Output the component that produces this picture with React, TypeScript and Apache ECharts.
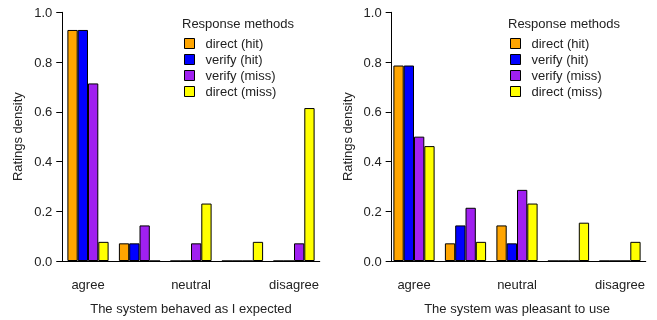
import React, { useEffect, useRef } from "react";
import * as echarts from "echarts";

const categories = ["agree", "", "neutral", "", "disagree"];
const methods = ["direct (hit)", "verify (hit)", "verify (miss)", "direct (miss)"];
const colors = ["#FFA500", "#0000FF", "#A020F0", "#FFFF00"];
const yTicks = [0, 0.2, 0.4, 0.6, 0.8, 1.0];

const leftTitle = "The system behaved as I expected";
const rightTitle = "The system was pleasant to use";

// values per method, per category
const leftDirectHit = [0.929, 0.071, 0, 0, 0];
const leftVerifyHit = [0.929, 0.071, 0, 0, 0];
const leftVerifyMiss = [0.714, 0.143, 0.071, 0, 0.071];
const leftDirectMiss = [0.077, 0, 0.231, 0.077, 0.615];

const rightDirectHit = [0.786, 0.071, 0.143, 0, 0];
const rightVerifyHit = [0.786, 0.143, 0.071, 0, 0];
const rightVerifyMiss = [0.5, 0.214, 0.286, 0, 0];
const rightDirectMiss = [0.462, 0.077, 0.231, 0.154, 0.077];

const FONT = "Liberation Sans, Arial, Helvetica, sans-serif";
const TEXT = "#222";
const FS = 13;

export default function App() {
  const ref = useRef<HTMLDivElement>(null);
  useEffect(() => {
    if (!ref.current) return;
    const chart = echarts.init(ref.current, null, { renderer: "svg" });
    const panels = [
      { data: [leftDirectHit, leftVerifyHit, leftVerifyMiss, leftDirectMiss], title: leftTitle, left: 62.25, yOff: 0 },
      { data: [rightDirectHit, rightVerifyHit, rightVerifyMiss, rightDirectMiss], title: rightTitle, left: 388.25, yOff: -3.4 },
    ];
    const grids = panels.map((p) => ({ left: p.left, top: 12.3, width: 257.5, height: 251 }));
    const xAxes = panels.map((p, i) => ({
      type: "category",
      gridIndex: i,
      data: categories,
      name: p.title,
      nameLocation: "middle",
      nameGap: 41,
      nameTextStyle: { fontFamily: FONT, fontSize: FS, color: TEXT },
      axisLine: { lineStyle: { color: "#000", width: 1 } },
      axisTick: { alignWithLabel: true, length: 7, lineStyle: { color: "#000" } },
      axisLabel: { interval: 0, margin: 17, fontFamily: FONT, fontSize: FS, color: TEXT },
    }));
    const yAxes = panels.map((p, i) => ({
      type: "value",
      gridIndex: i,
      min: 0,
      max: 1,
      interval: 0.2,
      offset: p.yOff,
      name: "Ratings density",
      nameLocation: "middle",
      nameGap: 38,
      nameRotate: 90,
      nameTextStyle: { fontFamily: FONT, fontSize: FS, color: TEXT },
      axisLine: { show: true, lineStyle: { color: "#000", width: 1 } },
      axisTick: { show: true, length: 6, lineStyle: { color: "#000" } },
      axisLabel: {
        margin: 10,
        fontFamily: FONT,
        fontSize: FS,
        color: TEXT,
        formatter: (v: number) => (yTicks.includes(Math.round(v * 10) / 10) ? v.toFixed(1) : ""),
      },
      splitLine: { show: false },
    }));
    const series: any[] = [];
    panels.forEach((p, i) => {
      p.data.forEach((vals, k) => {
        series.push({
          type: "bar",
          name: methods[k],
          xAxisIndex: i,
          yAxisIndex: i,
          data: vals,
          barGap: "0%",
          barCategoryGap: "20%",
          itemStyle: { color: colors[k], borderColor: "#000", borderWidth: 1 },
        });
      });
    });
    chart.setOption({
      animation: false,
      textStyle: { fontFamily: FONT },
      title: [
        { text: "Response methods", left: 182, top: 17 },
        { text: "Response methods", left: 508, top: 17 },
      ].map((t) => ({
        ...t,
        padding: 0,
        textStyle: { fontFamily: FONT, fontSize: FS, fontWeight: "normal", color: TEXT },
      })),
      legend: [184, 510].map((l) => ({
        orient: "vertical",
        left: l,
        top: 37,
        padding: 0,
        itemWidth: 10,
        itemHeight: 10,
        itemGap: 3,
        icon: "rect",
        data: methods.map((m) => ({ name: m, itemStyle: { borderColor: "#000", borderWidth: 1 } })),
        textStyle: { fontFamily: FONT, fontSize: FS, color: TEXT, padding: [0, 0, 0, 6] },
        selectedMode: false,
      })),
      grid: grids,
      xAxis: xAxes,
      yAxis: yAxes,
      series,
    });
    return () => chart.dispose();
  }, []);
  return <div ref={ref} style={{ position: "fixed", left: 0, top: 0, width: 657, height: 320 }} />;
}
